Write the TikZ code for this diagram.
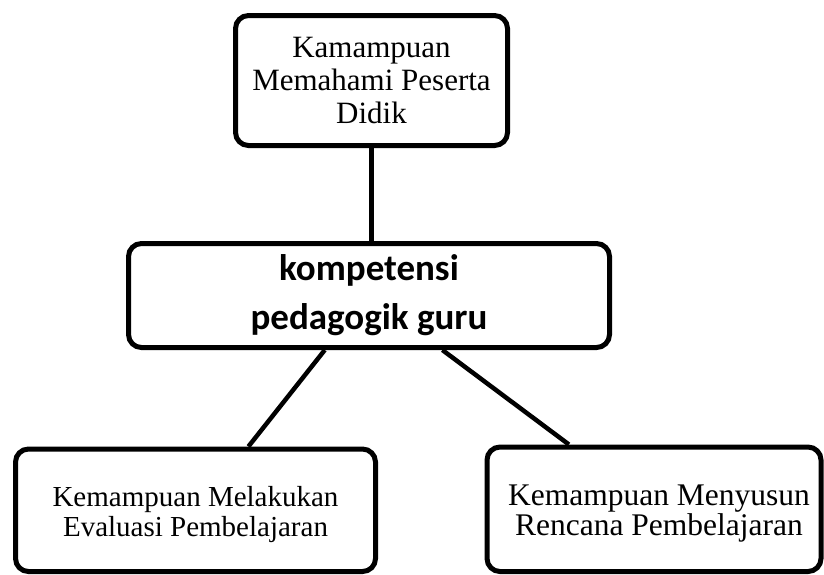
\documentclass[tikz,border=0pt]{standalone}
\usepackage{fontspec}
\setmainfont{Liberation Serif}
\newfontfamily\calib{Carlito}
\usetikzlibrary{calc}
\tikzset{
  box/.style={draw=black, line width=5pt, rounded corners=13pt, align=center, inner sep=0pt, fill=white},
  label text/.style={align=center, inner sep=0pt},
  conn/.style={draw=black, line width=4.5pt}
}
\begin{document}
\begin{tikzpicture}[x=1pt,y=-1pt]
\useasboundingbox (0,0) rectangle (824,574);
\node[box, minimum width=272pt, minimum height=130pt,
      font={\fontsize{31}{33}\selectfont}] (top) at (371.5,80.5)
  {Kamampuan\\Memahami Peserta\\Didik};
\node[box, minimum width=481pt, minimum height=104pt,
      font={\calib\bfseries\fontsize{37}{49}\selectfont}] (mid) at (369,295.5)
  {kompetensi\\pedagogik guru};
\node[box, minimum width=360pt, minimum height=122.5pt] (bl) at (195.5,510.25) {};
\node[label text, font={\fontsize{29}{30}\selectfont}] (blt) at (195.5,515)
  {Kemampuan Melakukan\\Evaluasi Pembelajaran};
\node[box, minimum width=334pt, minimum height=124.5pt] (br) at (654,509.25) {};
\node[label text, font={\fontsize{31.5}{30}\selectfont}] (brt) at (659,514)
  {Kemampuan Menyusun\\Rencana Pembelajaran};
\coordinate (m1) at ($(mid.south west)!0.409!(mid.south east)$);
\coordinate (m2) at ($(mid.south west)!0.651!(mid.south east)$);
\coordinate (b1) at ($(bl.north west)!0.645!(bl.north east)$);
\coordinate (b2) at ($(br.north west)!0.249!(br.north east)$);
\draw[conn] (top.south) -- (top.south |- mid.north);
\draw[conn] (m1) -- (b1);
\draw[conn] (m2) -- (b2);
\end{tikzpicture}
\end{document}
